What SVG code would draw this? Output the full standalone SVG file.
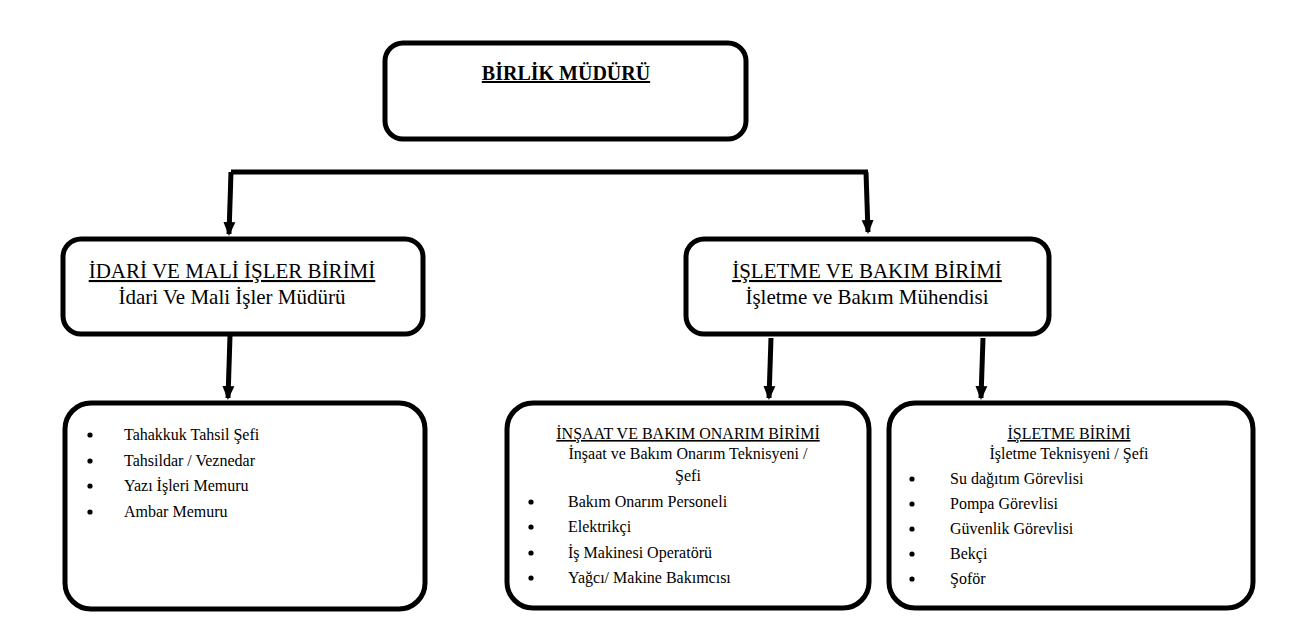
<svg xmlns="http://www.w3.org/2000/svg" width="1298" height="642" viewBox="0 0 1298 642" font-family="'Liberation Serif', 'Times New Roman', 'DejaVu Serif', serif">
<defs>
<marker id="ah" markerWidth="14" markerHeight="14" refX="12" refY="7" orient="auto" markerUnits="userSpaceOnUse"><path d="M0,1 L14,7 L0,13 z" fill="#000"/></marker>
<style>
.box{fill:#fff;stroke:#000;stroke-width:5}
text{font-family:'Liberation Serif','Times New Roman','DejaVu Serif',serif;fill:#000}
.h{font-size:21px;text-anchor:middle}
.s{font-size:16px}
.sc{font-size:16px;text-anchor:middle}
.c{stroke:#000;stroke-width:5;fill:none}
.b{fill:#000}
</style>
</defs>
<rect width="1298" height="642" fill="#fff"/>
<g id="connectors">
<path class="c" d="M231,172 H868"/>
<path class="c" d="M231,172 L229,234" marker-end="url(#ah)"/>
<path class="c" d="M866,172 L868,232" marker-end="url(#ah)"/>
<path class="c" d="M230,336 L228,398" marker-end="url(#ah)"/>
<path class="c" d="M771,338 L769,398" marker-end="url(#ah)"/>
<path class="c" d="M983,338 L981,398" marker-end="url(#ah)"/>
</g>
<g id="n-mudur">
<rect class="box" x="385" y="43" width="361" height="96" rx="18"/>
<text x="566" y="80" text-anchor="middle" font-size="20" font-weight="bold" text-decoration="underline">BİRLİK MÜDÜRÜ</text>
</g>
<g id="n-idari">
<rect class="box" x="63" y="239" width="360" height="95" rx="18"/>
<text class="h" x="232" y="278" text-decoration="underline">İDARİ VE MALİ İŞLER BİRİMİ</text>
<text class="h" x="232" y="304">İdari Ve Mali İşler Müdürü</text>
</g>
<g id="n-isletmebakim">
<rect class="box" x="686" y="239" width="363" height="95" rx="18"/>
<text class="h" x="867" y="278" text-decoration="underline">İŞLETME VE BAKIM BİRİMİ</text>
<text class="h" x="867" y="304">İşletme ve Bakım Mühendisi</text>
</g>
<g id="n-idari-list">
<rect class="box" x="65" y="403" width="360" height="206" rx="26"/>
<g class="b"><circle cx="90" cy="435" r="2.6"/><circle cx="90" cy="461" r="2.6"/><circle cx="90" cy="486" r="2.6"/><circle cx="90" cy="512" r="2.6"/></g>
<g class="s">
<text x="124" y="440">Tahakkuk Tahsil Şefi</text>
<text x="124" y="466">Tahsildar / Veznedar</text>
<text x="124" y="491">Yazı İşleri Memuru</text>
<text x="124" y="517">Ambar Memuru</text>
</g>
</g>
<g id="n-insaat">
<rect class="box" x="507" y="403" width="362" height="205" rx="26"/>
<text class="sc" x="688" y="439" text-decoration="underline">İNŞAAT VE BAKIM ONARIM BİRİMİ</text>
<text class="sc" x="688" y="459">İnşaat ve Bakım Onarım Teknisyeni /</text>
<text class="sc" x="688" y="481">Şefi</text>
<g class="b"><circle cx="531" cy="502" r="2.6"/><circle cx="531" cy="527" r="2.6"/><circle cx="531" cy="553" r="2.6"/><circle cx="531" cy="578" r="2.6"/></g>
<g class="s">
<text x="568" y="507">Bakım Onarım Personeli</text>
<text x="568" y="532">Elektrikçi</text>
<text x="568" y="558">İş Makinesi Operatörü</text>
<text x="568" y="583">Yağcı/ Makine Bakımcısı</text>
</g>
</g>
<g id="n-isletme">
<rect class="box" x="889" y="403" width="364" height="205" rx="26"/>
<text class="sc" x="1069" y="439" text-decoration="underline">İŞLETME BİRİMİ</text>
<text class="sc" x="1069" y="459">İşletme Teknisyeni / Şefi</text>
<g class="b"><circle cx="912" cy="479" r="2.6"/><circle cx="912" cy="504" r="2.6"/><circle cx="912" cy="529" r="2.6"/><circle cx="912" cy="554" r="2.6"/><circle cx="912" cy="579" r="2.6"/></g>
<g class="s">
<text x="950" y="484">Su dağıtım Görevlisi</text>
<text x="950" y="509">Pompa Görevlisi</text>
<text x="950" y="534">Güvenlik Görevlisi</text>
<text x="950" y="559">Bekçi</text>
<text x="950" y="584">Şoför</text>
</g>
</g>
</svg>
